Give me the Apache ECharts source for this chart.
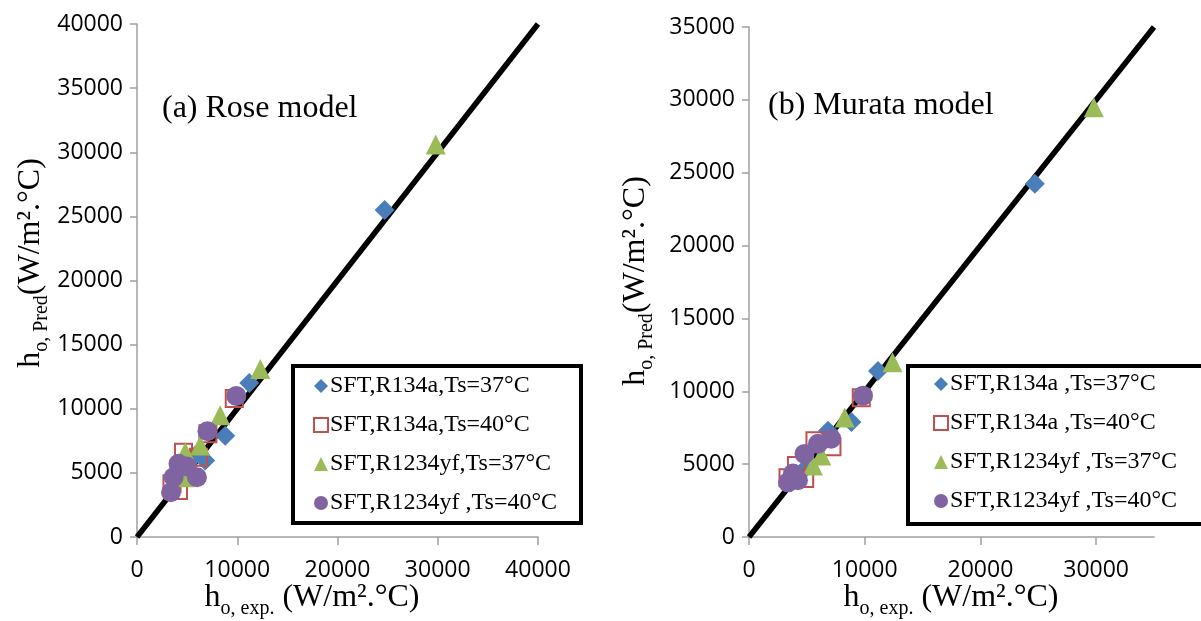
<!DOCTYPE html>
<html>
<head>
<meta charset="utf-8">
<script src="https://cdn.jsdelivr.net/npm/echarts@6/dist/echarts.min.js"></script>
<style>
  html, body { margin: 0; padding: 0; background: #fff; }
  #main { width: 1201px; height: 621px; }
</style>
</head>
<body>
<div id="main"></div>
<script>
// legend names
var leftNames = ['SFT,R134a,Ts=37°C', 'SFT,R134a,Ts=40°C', 'SFT,R1234yf,Ts=37°C', 'SFT,R1234yf ,Ts=40°C'];
var rightNames = ['SFT,R134a ,Ts=37°C', 'SFT,R134a ,Ts=40°C', 'SFT,R1234yf ,Ts=37°C', 'SFT,R1234yf ,Ts=40°C'];

// (a) Rose model  [h_exp, h_pred]
var leftBlue = [[24700, 25500], [11200, 12000], [8800, 7900], [6800, 5970], [5810, 6360]];
var leftRed = [[9700, 10800], [7070, 8050], [6140, 6220], [4640, 6610], [3490, 4150], [4140, 3630]];
var leftGreen = [[29800, 30600], [12300, 13100], [8300, 9500], [6300, 7140], [4810, 6610], [4810, 4660]];
var leftPurple = [[9900, 11000], [7030, 8250], [4140, 5710], [4980, 5500], [3650, 4660], [5980, 4660], [3390, 3490]];
var leftLine = [[0, 0], [40000, 40000]];

// (b) Murata model
var rightBlue = [[24700, 24250], [11150, 11400], [8850, 7900], [6830, 7300], [4960, 4790]];
var rightRed = [[9700, 9550], [5700, 6600], [7170, 6200], [4100, 4910], [3370, 4070], [4810, 4020]];
var rightGreen = [[29800, 29500], [12400, 12000], [8270, 8200], [6250, 5600], [5530, 4910]];
var rightPurple = [[9850, 9700], [7100, 6750], [5960, 6400], [4800, 5700], [3800, 4350], [3370, 3750], [4230, 3900]];
var rightLine = [[0, 0], [35000, 35000]];

var leftXTicks = [0, 10000, 20000, 30000, 40000];
var rightXTicks = [0, 10000, 20000, 30000];

var chart = echarts.init(document.getElementById('main'));

var axisGray = '#a0a0a0';
var serif = 'Liberation Serif';
function plainNum(v) { return String(v); }
function tickFont() { return { color: '#000', fontSize: 23, fontFamily: 'Open Sans', formatter: plainNum }; }

function xAxisCfg(idx, max, ticks) {
    return {
        gridIndex: idx, type: 'value', min: 0, max: max, interval: 10000,
        axisLine: { lineStyle: { color: axisGray, width: 1.5 } },
        axisTick: { customValues: ticks, length: 8, lineStyle: { color: axisGray, width: 1.5 } },
        axisLabel: Object.assign({ customValues: ticks, margin: 22 }, tickFont()),
        splitLine: { show: false }
    };
}
function yAxisCfg(idx, max) {
    return {
        gridIndex: idx, type: 'value', min: 0, max: max, interval: 5000,
        axisLine: { show: true, lineStyle: { color: axisGray, width: 1.5 } },
        axisTick: { show: true, length: 7, lineStyle: { color: axisGray, width: 1.5 } },
        axisLabel: Object.assign({ margin: 14 }, tickFont()),
        splitLine: { show: false }
    };
}

function scatterSet(idx, names, blue, red, green, purple) {
    return [
        { name: names[0], type: 'scatter', xAxisIndex: idx, yAxisIndex: idx, symbol: 'diamond', symbolSize: 20,
          itemStyle: { color: '#4A7EBB', opacity: 1 }, data: blue, z: 3 },
        { name: names[1], type: 'scatter', xAxisIndex: idx, yAxisIndex: idx, symbol: 'rect', symbolSize: 17,
          itemStyle: { color: 'rgba(255,255,255,0)', borderColor: '#C0504D', borderWidth: 2, opacity: 1 }, data: red, z: 3 },
        { name: names[2], type: 'scatter', xAxisIndex: idx, yAxisIndex: idx, symbol: 'triangle', symbolSize: 20,
          itemStyle: { color: '#9BBB59', opacity: 1 }, data: green, z: 3 },
        { name: names[3], type: 'scatter', xAxisIndex: idx, yAxisIndex: idx, symbol: 'circle', symbolSize: 20,
          itemStyle: { color: '#8064A2', opacity: 1 }, data: purple, z: 3 }
    ];
}

function lineSeries(idx, data) {
    return { type: 'line', xAxisIndex: idx, yAxisIndex: idx, data: data, symbol: 'none', silent: true,
             lineStyle: { color: '#000', width: 5.5 }, z: 1 };
}

function legendCfg(names, left, top) {
    var icons = ['diamond', 'rect', 'triangle', 'circle'];
    return {
        orient: 'vertical', left: left, top: top, padding: 0, itemGap: 15,
        itemWidth: 14, itemHeight: 14, selectedMode: false,
        textStyle: { color: '#000', fontSize: 24, fontFamily: serif, padding: [0, 0, 0, -3] },
        data: names.map(function (n, i) { return { name: n, icon: icons[i] }; })
    };
}

var titleRich = {
    h: { fontSize: 32, fontFamily: serif, color: '#000' },
    s: { fontSize: 20, fontFamily: serif, color: '#000', padding: [22, 0, 0, 0] }
};

function titleText(x, y, rot, text) {
    return {
        type: 'text', x: x, y: y, rotation: rot,
        style: { text: text, rich: titleRich, fill: '#000', font: '32px "' + serif + '"',
                 align: 'center', verticalAlign: 'middle', textAlign: 'center', textVerticalAlign: 'middle' }
    };
}

var option = {
    backgroundColor: '#fff',
    animation: false,
    grid: [
        { left: 137, top: 24, width: 401, height: 513 },
        { left: 749, top: 27, width: 405, height: 510 }
    ],
    xAxis: [xAxisCfg(0, 40000, leftXTicks), xAxisCfg(1, 35000, rightXTicks)],
    yAxis: [yAxisCfg(0, 40000), yAxisCfg(1, 35000)],
    legend: [legendCfg(leftNames, 313, 374), legendCfg(rightNames, 933, 372)],
    graphic: { elements: [
        { type: 'rect', shape: { x: 293, y: 366, width: 288, height: 157 },
          style: { fill: 'rgba(0,0,0,0)', stroke: '#000', lineWidth: 4 }, z: 10 },
        { type: 'rect', shape: { x: 908, y: 366, width: 310, height: 158 },
          style: { fill: 'rgba(0,0,0,0)', stroke: '#000', lineWidth: 4 }, z: 10 },
        { type: 'text', x: 162, y: 109,
          style: { text: '(a) Rose model', font: '32px "' + serif + '"', fill: '#000',
                   verticalAlign: 'middle', textVerticalAlign: 'middle' } },
        { type: 'text', x: 768, y: 106,
          style: { text: '(b) Murata model', font: '32px "' + serif + '"', fill: '#000',
                   verticalAlign: 'middle', textVerticalAlign: 'middle' } },
        titleText(312, 598, 0, '{h|h}{s|o, exp.}{h| (W/m².°C)}'),
        titleText(951, 598, 0, '{h|h}{s|o, exp.}{h| (W/m².°C)}'),
        titleText(31, 263, Math.PI / 2, '{h|h}{s|o, Pred}{h|(W/m².°C)}'),
        titleText(636, 281, Math.PI / 2, '{h|h}{s|o, Pred}{h|(W/m².°C)}')
    ] },
    series: [lineSeries(0, leftLine), lineSeries(1, rightLine)]
        .concat(scatterSet(0, leftNames, leftBlue, leftRed, leftGreen, leftPurple))
        .concat(scatterSet(1, rightNames, rightBlue, rightRed, rightGreen, rightPurple))
};

chart.setOption(option);
</script>
</body>
</html>
